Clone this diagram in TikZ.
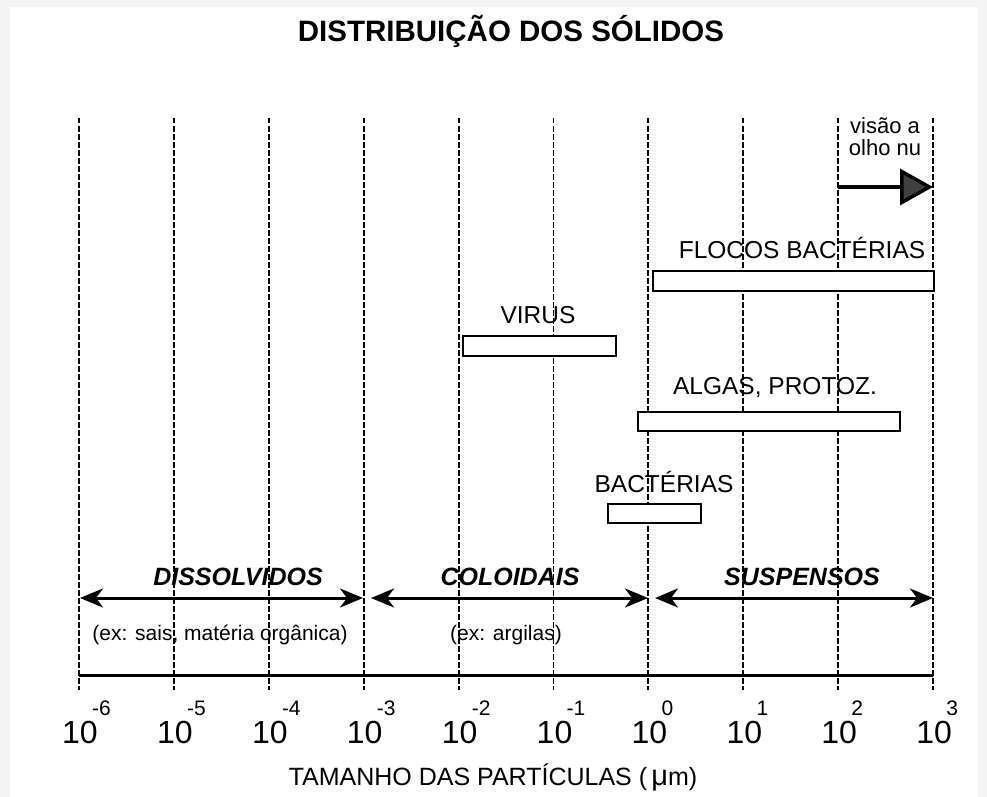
\documentclass[tikz,border=0pt]{standalone}
\usepackage{fontspec}
\setmainfont{Liberation Sans}
\usetikzlibrary{arrows.meta}
\begin{document}
\begin{tikzpicture}[x=1pt,y=-1pt,
  gridline/.style={line width=1.9pt, dash pattern=on 5.5pt off 2.5pt},
  rangebox/.style={draw, line width=1.8pt, fill=white, inner sep=0pt, anchor=north west},
  lbl/.style={font=\fontsize{24.5}{24.5}\selectfont, inner sep=0pt},
  cat/.style={font=\bfseries\itshape\fontsize{25}{25}\selectfont, inner sep=0pt},
  sublbl/.style={font=\fontsize{21}{21}\selectfont, inner sep=0pt},
  ten/.style={font=\fontsize{32}{32}\selectfont, inner sep=0pt, text height=23pt, text depth=0pt},
  expo/.style={font=\fontsize{21}{21}\selectfont, inner sep=0pt, text height=15pt, text depth=0pt},
  catarrow/.style={line width=3pt, {Stealth[length=23pt,width=19pt,inset=7pt]}-{Stealth[length=23pt,width=19pt,inset=7pt]}},
  titlefont/.style={font=\bfseries\fontsize{29.5}{29.5}\selectfont, inner sep=0pt},
  vislbl/.style={font=\fontsize{22}{22}\selectfont, inner sep=0pt}
]
\useasboundingbox (0,0) rectangle (987,797);
\fill[gray!9] (0,0) rectangle (987,797);
\fill[white] (10,7) rectangle (978,797);

% grid lines and tick labels
\foreach \i/\e in {0/-6,1/-5,2/-4,3/-3,4/-2,5/-1,6/0,7/1,8/2,9/3} {
  \pgfmathsetmacro\xx{79+94.9*\i}
  \coordinate (g\i t) at (\xx,118);
  \coordinate (g\i b) at (\xx,690);
  \draw[gridline] (g\i t) -- (g\i b);
  \node[ten, anchor=base] (ten\i) at (\xx+1,743) {10};
  \node[expo, anchor=south west] (exp\i) at (\xx+13,716) {\e};
}

% axis
\coordinate (ax0) at (79,675);
\coordinate (ax9) at (933,675);
\draw[line width=3pt] (ax0) -- (ax9);

% title
\node[titlefont] (title) at (511,31) {DISTRIBUIÇÃO DOS SÓLIDOS};

% vision arrow
\node[vislbl, anchor=base] (vis1) at (885,134) {visão a};
\node[vislbl, anchor=base] (vis2) at (885,155) {olho nu};
\coordinate (vs) at (838,187);
\coordinate (ve) at (933,187);
\draw[line width=3.5pt, -{Triangle[length=33pt,width=36pt,fill=black!75]}] (vs) -- (ve);

% range boxes
\node[lbl] (flocosl) at (802,248) {FLOCOS BACTÉRIAS};
\node[rangebox, minimum width=281pt, minimum height=20pt] (flocos) at (652,270) {};
\node[lbl] (virusl) at (538,315) {VIRUS};
\node[rangebox, minimum width=153pt, minimum height=20pt] (virus) at (462,335) {};
\node[lbl] (algasl) at (775,388) {ALGAS, PROTOZ.};
\node[rangebox, minimum width=262pt, minimum height=19pt] (algas) at (637,411) {};
\node[lbl] (bactl) at (664,482) {BACTÉRIAS};
\node[rangebox, minimum width=93pt, minimum height=19pt] (bact) at (607,503) {};

% categories
\node[cat] (dissl) at (238,577) {DISSOLVIDOS};
\node[cat] (coll) at (510,577) {COLOIDAIS};
\node[cat] (susl) at (802,577) {SUSPENSOS};
\coordinate (d0) at (80,598);
\coordinate (d1) at (363,598);
\coordinate (c0) at (371,598);
\coordinate (c1) at (648,598);
\coordinate (s0) at (655,598);
\coordinate (s1) at (933,598);
\draw[catarrow] (d0) -- (d1);
\draw[catarrow] (c0) -- (c1);
\draw[catarrow] (s0) -- (s1);
\node[sublbl] (dissx) at (220,635) {(ex: sais, matéria orgânica)};
\node[sublbl] (collx) at (506,635) {(ex: argilas)};

% axis title
\node[font=\fontsize{25}{25}\selectfont, inner sep=0pt] (axt) at (493,777) {TAMANHO DAS PARTÍCULAS (\,{\fontsize{29}{29}\selectfont μ}m)};
\end{tikzpicture}
\end{document}
